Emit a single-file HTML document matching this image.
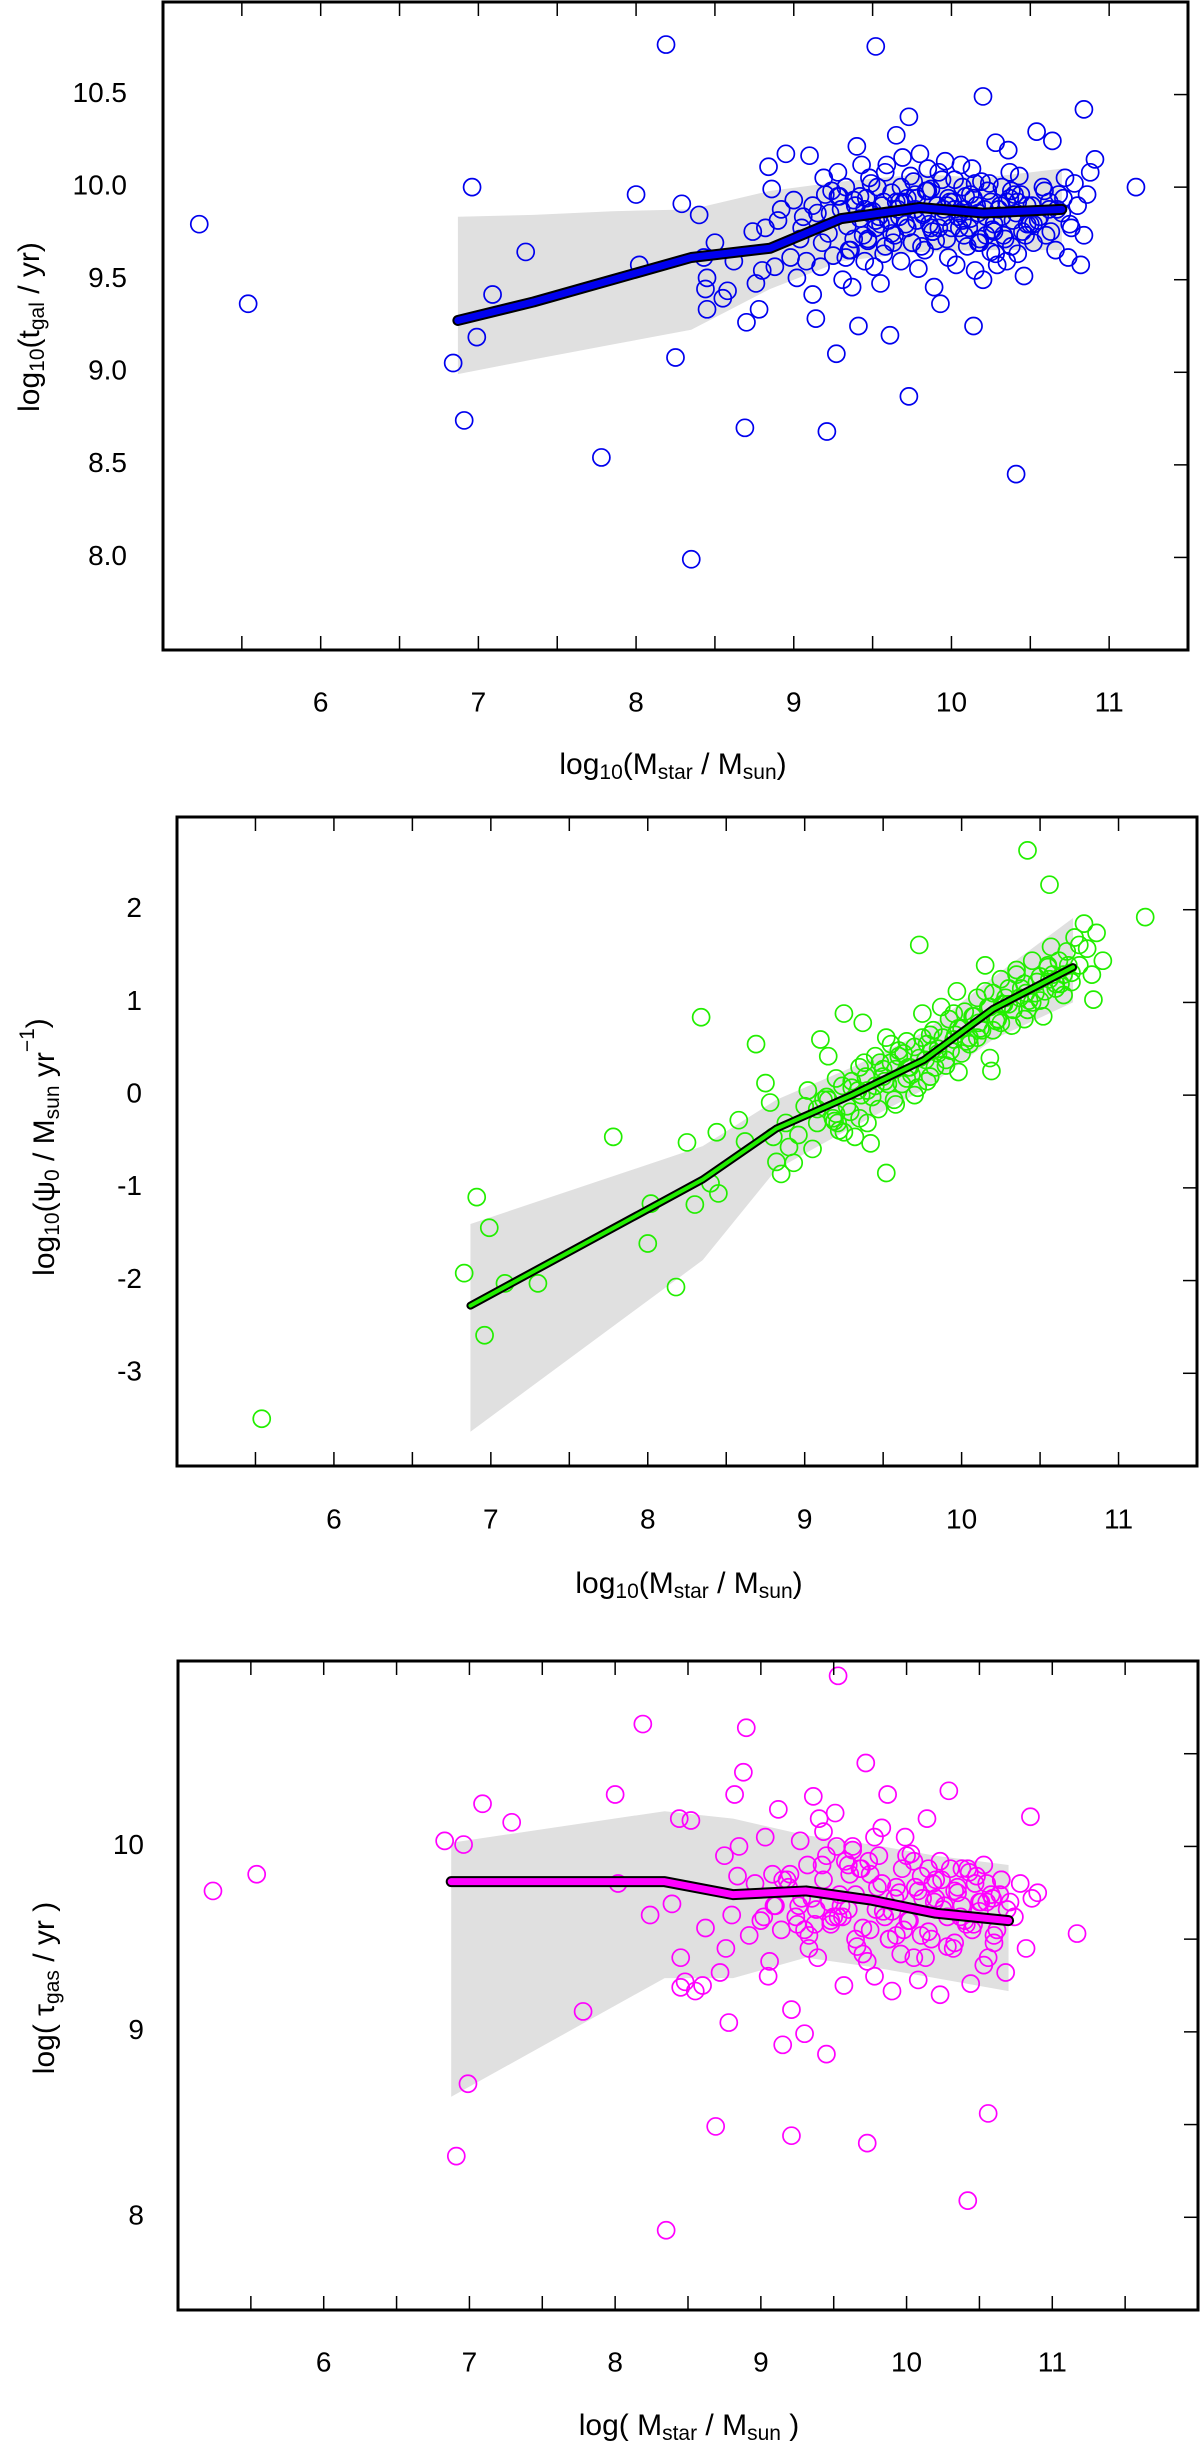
<!DOCTYPE html>
<html><head><meta charset="utf-8"><title>Galaxy properties vs stellar mass</title>
<style>
html,body{margin:0;padding:0;background:#fff;}
svg{display:block;font-family:"Liberation Sans",sans-serif;}
</style></head>
<body>
<svg id="fig" width="1200" height="2453" viewBox="0 0 1200 2453" xmlns="http://www.w3.org/2000/svg"></svg>
<script>
// ---------------- Panel 1 data: log t_gal ----------------
const p1OutX = [5.23,5.54,6.96,6.84,6.91,6.99,7.09,7.30,7.78,8.00,8.02,8.19,8.25,8.29,8.35,8.69,9.21,9.73,10.41,11.17,9.52,10.20,10.84,10.91];
const p1OutY = [9.80,9.37,10.00,9.05,8.74,9.19,9.42,9.65,8.54,9.96,9.58,10.77,9.08,9.91,7.99,8.70,8.68,8.87,8.45,10.00,10.76,10.49,10.42,10.15];
const p1CloudX = [8.40,8.43,8.44,8.45,8.45,8.50,8.55,8.58,8.62,8.70,8.74,8.76,8.78,8.80,8.82,8.84,8.86,8.88,8.90,8.92,8.95,8.98,9.00,9.02,9.04,9.06,9.08,9.10,9.12,9.14,9.15,9.17,9.19,9.20,9.22,9.24,9.25,9.27,9.28,9.30,9.31,9.33,9.34,9.36,9.37,9.38,9.40,9.41,9.42,9.43,9.45,9.46,9.47,9.48,9.50,9.51,9.52,9.53,9.55,9.56,9.57,9.58,9.60,9.61,9.62,9.64,9.65,9.66,9.68,9.69,9.70,9.72,9.73,9.75,9.76,9.78,9.79,9.80,9.82,9.83,9.85,9.86,9.87,9.89,9.90,9.92,9.93,9.95,9.96,9.98,9.99,10.00,10.02,10.03,10.05,10.06,10.08,10.09,10.10,10.12,10.13,10.14,10.15,10.16,10.18,10.19,10.20,10.22,10.23,10.25,10.26,10.28,10.29,10.30,10.32,10.33,10.35,10.36,10.38,10.39,10.40,10.42,10.43,10.45,10.46,10.48,10.50,10.52,10.54,10.56,10.58,10.60,10.62,10.64,10.66,10.68,10.70,10.72,10.74,10.76,10.78,10.80,10.82,10.84,10.86,10.88,9.35,9.45,9.55,9.65,9.75,9.85,9.95,10.05,10.15,10.25,10.35,9.28,9.38,9.48,9.58,9.68,9.78,9.88,9.98,10.08,10.18,10.28,10.38,10.48];
const p1CloudY = [9.85,9.62,9.45,9.34,9.51,9.70,9.40,9.44,9.60,9.27,9.76,9.48,9.34,9.55,9.78,10.11,9.99,9.57,9.82,9.88,10.18,9.62,9.93,9.51,9.72,9.84,9.60,10.17,9.42,9.29,9.86,9.57,10.05,9.96,9.75,9.98,9.63,9.10,10.08,9.88,9.50,10.00,9.79,9.66,9.46,9.93,10.22,9.25,9.83,10.12,9.60,9.94,9.71,10.05,9.87,9.57,9.78,10.00,9.48,9.90,9.64,10.08,9.82,9.20,9.97,9.74,10.28,9.88,9.60,10.16,9.92,9.78,10.38,9.70,10.03,9.94,9.56,10.18,9.85,9.66,10.10,9.80,9.99,9.46,9.71,10.08,9.37,9.88,10.14,9.62,9.92,9.78,10.04,9.58,9.86,10.12,9.74,9.95,9.68,9.83,10.10,9.25,9.55,9.90,9.72,10.03,9.50,9.84,9.98,9.65,9.77,10.24,9.58,9.88,10.00,9.74,9.92,10.20,9.68,9.82,9.96,9.64,10.06,9.76,9.52,9.90,9.80,9.70,10.30,9.84,10.00,9.74,9.92,10.25,9.66,9.96,9.86,10.05,9.62,9.78,10.02,9.90,9.58,9.74,9.96,10.08,9.66,9.88,9.80,9.92,9.70,9.98,9.84,9.78,10.02,9.92,9.60,9.95,9.72,9.86,9.68,10.00,9.82,9.76,9.94,9.88,9.70,9.64,9.98,9.80,10.10,9.74];
const p1Cloud2X = [9.05,9.12,9.18,9.23,9.29,9.33,9.39,9.44,9.49,9.54,9.59,9.63,9.67,9.71,9.74,9.77,9.81,9.84,9.88,9.91,9.94,9.97,10.01,10.04,10.07,10.11,10.14,10.17,10.21,10.24,10.27,10.31,10.34,10.37,10.41,10.44,10.47,10.51,10.55,10.59,10.63,10.67,10.71,10.75,9.42,9.52,9.62,9.72,9.82,9.92,10.02,10.12,10.22,10.32,10.42,10.52,10.62,9.47,9.57,9.67,9.77,9.87,9.97,10.07,10.17,10.27,10.37];
const p1Cloud2Y = [9.78,9.90,9.70,9.86,9.95,9.62,9.90,9.74,10.02,9.84,10.12,9.70,9.92,9.80,10.06,9.88,9.68,9.98,9.76,9.90,10.04,9.72,9.92,9.84,10.00,9.78,9.94,9.70,9.88,10.02,9.80,9.90,9.72,10.08,9.86,9.96,9.74,9.90,9.82,9.98,9.76,9.88,9.94,9.80,9.95,9.82,9.75,9.94,9.86,9.78,9.88,9.96,9.74,9.84,9.92,9.80,9.88,9.72,9.92,9.84,9.96,9.78,9.90,9.82,9.86,9.76,9.94];
const p1BandX = [6.87,7.35,7.85,8.35,8.85,9.30,9.80,10.20,10.70];
const p1BandHi = [9.84,9.85,9.87,9.88,9.98,10.03,10.07,10.05,10.10];
const p1BandLo = [8.99,9.07,9.15,9.23,9.45,9.60,9.65,9.66,9.66];
const p1LineY = [9.28,9.38,9.50,9.62,9.67,9.83,9.89,9.86,9.88];

// ---------------- Panel 2 data: log psi0 ----------------
const p2OutX = [5.54,6.83,6.91,6.99,6.96,7.09,7.30,7.78,8.00,8.02,8.18,8.25,8.30,8.34,8.69,10.42,10.56,11.17,9.73,9.52,10.19,10.84,8.40,8.44,8.45,8.58,8.62];
const p2OutY = [-3.49,-1.92,-1.10,-1.43,-2.59,-2.03,-2.03,-0.45,-1.60,-1.17,-2.07,-0.51,-1.18,0.84,0.55,2.64,2.27,1.92,1.62,-0.84,0.26,1.03,-0.95,-0.40,-1.06,-0.27,-0.50];
const p2CloudX = [8.75,8.78,8.80,8.82,8.85,8.88,8.90,8.93,8.96,9.00,9.02,9.05,9.08,9.10,9.12,9.15,9.18,9.20,9.22,9.25,9.27,9.30,9.32,9.35,9.37,9.40,9.42,9.45,9.47,9.50,9.52,9.55,9.57,9.60,9.62,9.65,9.67,9.70,9.72,9.75,9.77,9.80,9.82,9.85,9.87,9.90,9.92,9.95,9.97,10.00,10.02,10.05,10.07,10.10,10.12,10.15,10.17,10.20,10.22,10.25,10.27,10.30,10.32,10.35,10.37,10.40,10.42,10.45,10.47,10.50,10.52,10.55,10.57,10.60,10.62,10.65,10.67,10.70,10.72,10.75,10.78,10.80,10.83,10.86,10.90,9.20,9.30,9.40,9.50,9.60,9.70,9.80,9.90,10.00,10.10,10.20,10.30,10.40,10.50,10.60,10.70,9.25,9.35,9.45,9.55,9.65,9.75,9.85,9.95,10.05,10.15,10.25,10.35,10.45,10.55,10.65,10.75,9.15,9.38,9.58,9.78,9.98,10.18];
const p2CloudY = [0.13,-0.08,-0.45,-0.72,-0.85,-0.30,-0.56,-0.73,-0.43,-0.12,0.05,-0.58,-0.30,0.60,-0.05,0.42,-0.25,0.18,-0.38,0.88,-0.12,0.08,-0.45,0.30,0.78,0.05,-0.52,0.42,-0.15,0.20,0.62,0.35,-0.05,0.48,0.12,0.58,0.30,0.52,0.08,0.88,0.38,0.20,0.70,0.50,0.95,0.32,0.82,0.60,1.12,0.45,0.90,0.62,0.85,1.05,0.72,1.40,0.95,1.10,0.80,1.25,0.98,1.15,0.75,1.35,1.05,1.20,0.92,1.45,1.10,1.28,0.85,1.38,1.60,1.20,1.45,1.30,1.55,1.22,1.70,1.40,1.85,1.58,1.30,1.75,1.45,-0.20,0.15,-0.30,0.28,0.42,0.00,0.65,0.38,0.72,0.62,0.70,0.98,0.82,1.02,1.15,1.32,-0.40,-0.25,0.10,0.55,0.18,0.62,0.45,0.88,0.55,1.12,0.78,1.30,1.00,1.40,1.08,1.62,-0.05,0.35,-0.10,0.15,0.25,0.40];
const p2Cloud2X = [9.08,9.14,9.19,9.24,9.29,9.34,9.39,9.43,9.48,9.53,9.58,9.63,9.68,9.73,9.78,9.83,9.88,9.93,9.98,10.03,10.08,10.13,10.18,10.23,10.28,10.33,10.38,10.43,10.48,10.53,10.58,10.63,10.68,9.21,9.36,9.51,9.66,9.81,9.96,10.11,10.26,10.41,10.56];
const p2Cloud2Y = [-0.15,-0.02,-0.28,0.10,-0.18,0.05,0.20,-0.02,0.35,0.12,0.28,0.45,0.22,0.40,0.55,0.30,0.62,0.48,0.72,0.58,0.85,0.70,0.95,0.82,1.05,0.92,1.15,1.02,1.22,1.12,1.30,1.20,1.40,-0.30,0.00,0.15,0.30,0.48,0.65,0.78,0.98,1.10,1.25];
const p2BandX = [6.87,8.35,8.82,9.30,9.76,10.20,10.71];
const p2BandHi = [-1.39,-0.55,-0.05,0.30,0.68,1.27,1.91];
const p2BandLo = [-3.63,-1.78,-0.80,-0.35,0.06,0.60,1.00];
const p2LineY = [-2.27,-0.91,-0.36,0.00,0.38,0.93,1.38];

// ---------------- Panel 3 data: log tau_gas ----------------
const p3OutX = [5.24,5.54,6.83,6.96,7.09,7.29,6.99,6.91,7.78,8.00,8.02,8.19,8.24,8.35,8.39,8.69,8.90,9.53,9.21,9.73,10.42,10.56,11.17,10.85,8.44,8.45,8.52,8.62,8.75,8.78,8.82,8.85];
const p3OutY = [9.76,9.85,10.03,10.01,10.23,10.13,8.72,8.33,9.11,10.28,9.80,10.66,9.63,7.93,9.69,8.49,10.64,10.92,8.44,8.40,8.09,8.56,9.53,10.16,10.15,9.40,10.14,9.56,9.95,9.05,10.28,10.00];
const p3CloudX = [8.45,8.48,8.55,8.60,8.72,8.76,8.80,8.84,8.88,8.92,8.96,9.00,9.03,9.06,9.09,9.12,9.15,9.18,9.21,9.24,9.27,9.30,9.33,9.36,9.39,9.42,9.45,9.48,9.51,9.54,9.57,9.60,9.63,9.66,9.69,9.72,9.75,9.78,9.81,9.84,9.87,9.90,9.93,9.96,9.99,10.02,10.05,10.08,10.11,10.14,10.17,10.20,10.23,10.26,10.29,10.32,10.35,10.38,10.41,10.44,10.47,10.50,10.53,10.56,10.59,10.62,10.65,10.68,10.71,10.74,10.78,10.82,10.86,10.90,9.10,9.20,9.30,9.40,9.50,9.60,9.70,9.80,9.90,10.00,10.10,10.20,10.30,10.40,10.50,10.60,9.15,9.25,9.35,9.45,9.55,9.65,9.75,9.85,9.95,10.05,10.15,10.25,10.35,10.45,10.55,10.65,9.05,9.28,9.48,9.68,9.88,10.08,10.28,10.48,9.38,9.58,9.78,9.98,10.18,10.38,10.58];
const p3CloudY = [9.24,9.27,9.22,9.25,9.32,9.45,9.63,9.84,10.40,9.52,9.80,9.60,10.05,9.38,9.68,10.20,8.93,9.82,9.12,9.62,10.03,8.99,9.52,10.27,9.40,9.90,8.88,9.58,10.18,9.74,9.25,9.66,10.00,9.46,9.88,10.45,9.55,9.30,9.95,9.65,10.28,9.22,9.78,9.42,10.05,9.60,9.92,9.28,9.72,10.15,9.50,9.82,9.20,9.68,10.30,9.45,9.75,9.88,9.58,9.26,9.80,9.65,9.90,9.40,9.72,9.55,9.82,9.32,9.70,9.62,9.80,9.45,9.72,9.75,9.68,9.85,9.55,10.15,9.62,9.90,9.42,9.78,9.65,9.95,9.52,9.72,9.88,9.60,9.70,9.48,9.82,9.58,9.72,9.95,9.68,9.50,9.85,9.62,9.75,9.40,9.88,9.66,9.78,9.55,9.70,9.82,9.30,9.72,9.60,9.88,9.50,9.76,9.62,9.84,9.66,9.92,10.05,9.55,9.80,9.68,9.74,9.60];
const p3Cloud2X = [9.02,9.08,9.14,9.19,9.26,9.32,9.37,9.43,9.47,9.52,9.56,9.61,9.65,9.70,9.74,9.79,9.83,9.88,9.92,9.97,10.01,10.06,10.10,10.15,10.19,10.24,10.28,10.33,10.37,10.42,10.46,10.51,10.55,10.60,10.64,10.69,9.33,9.53,9.73,9.93,10.13,10.33,10.53,9.43,9.63,9.83,10.03,10.23,10.43];
const p3Cloud2Y = [9.62,9.85,9.55,9.78,9.68,9.90,9.58,9.82,9.70,10.00,9.62,9.85,9.74,9.56,9.92,9.66,9.80,9.50,9.72,9.88,9.60,9.78,9.84,9.54,9.70,9.82,9.46,9.76,9.62,9.88,9.58,9.70,9.80,9.52,9.74,9.66,9.45,9.62,9.38,9.52,9.40,9.48,9.36,10.08,9.98,10.10,9.96,9.92,9.86];
const p3BandX = [6.875,8.34,8.81,9.31,9.76,10.20,10.70];
const p3BandHi = [10.02,10.19,10.15,10.06,10.01,9.95,9.90];
const p3BandLo = [8.65,9.29,9.29,9.40,9.35,9.29,9.22];
const p3LineY = [9.81,9.81,9.74,9.76,9.71,9.64,9.60];

const xTickLabels = ['6','7','8','9','10','11'];
const yTickLabels1 = ['8.0','8.5','9.0','9.5','10.0','10.5'];
const yTickLabels2 = ['-3','-2','-1','0','1','2'];
const yTickLabels3 = ['8','9','10'];

const NS = 'http://www.w3.org/2000/svg';
const svg = document.getElementById('fig');
function mk(tag, attrs, parent){
  const e = document.createElementNS(NS, tag);
  for (const k in attrs) e.setAttribute(k, attrs[k]);
  (parent||svg).appendChild(e);
  return e;
}

function panel(cfg){
  const g = mk('g', {});
  
  
  const sx = v => cfg.L + (v - cfg.x0) / (cfg.x1 - cfg.x0) * (cfg.R - cfg.L);
  const sy = v => cfg.B - (v - cfg.y0) / (cfg.y1 - cfg.y0) * (cfg.B - cfg.T);
  let pts = cfg.bandX.map((x,i)=>sx(x)+','+sy(cfg.bandHi[i]));
  for (let i=cfg.bandX.length-1;i>=0;i--) pts.push(sx(cfg.bandX[i])+','+sy(cfg.bandLo[i]));
  const band = mk('polygon', {points: pts.join(' '), fill:'#e0e0e0', stroke:'none'}, g);
  
  
  const pg = mk('g', {fill:'none', stroke:cfg.color, 'stroke-width':1.7}, g);
  
  
  const addPts = (xs, ys) => xs.forEach((x,i)=>{
    const c = mk('circle', {cx:sx(x), cy:sy(ys[i]), r:8.5}, pg);
    
    
  });
  addPts(cfg.cloudX, cfg.cloudY);
  addPts(cfg.cloud2X, cfg.cloud2Y);
  addPts(cfg.outX, cfg.outY);
  const lp = cfg.bandX.map((x,i)=>sx(x)+','+sy(cfg.lineY[i])).join(' ');
  const l1 = mk('polyline', {points:lp, fill:'none', stroke:'#000', 'stroke-width':cfg.lw+4, 'stroke-linecap':'round', 'stroke-linejoin':'round'}, g);
  
  
  const l2 = mk('polyline', {points:lp, fill:'none', stroke:cfg.color, 'stroke-width':cfg.lw, 'stroke-linecap':'round', 'stroke-linejoin':'round'}, g);
  
  
  const tg = mk('g', {stroke:'#000', 'stroke-width':1.5}, g);
  
  
  for (let v = cfg.x0 + 0.5; v < cfg.x1 - 0.01; v += 0.5){
    mk('line', {x1:sx(v), x2:sx(v), y1:cfg.B, y2:cfg.B-14}, tg);
    mk('line', {x1:sx(v), x2:sx(v), y1:cfg.T, y2:cfg.T+14}, tg);
  }
  for (let v = cfg.y0 + cfg.ystep; v < cfg.y1 - 0.01; v += cfg.ystep){
    mk('line', {x1:cfg.R, x2:cfg.R-14, y1:sy(v), y2:sy(v)}, tg);
  }
  const fr = mk('rect', {x:cfg.L, y:cfg.T, width:cfg.R-cfg.L, height:cfg.B-cfg.T, fill:'none', stroke:'#000', 'stroke-width':3}, g);
  
  
  xTickLabels.forEach(s=>{
    const t = mk('text', {x:sx(parseFloat(s)), y:cfg.xLabY, 'font-size':28, 'text-anchor':'middle', 'dominant-baseline':'middle'}, g);
    t.textContent = s;
    
    
  });
  cfg.yLabels.forEach(s=>{
    const t = mk('text', {x:cfg.yLabX, y:sy(parseFloat(s)), 'font-size':28, 'text-anchor':'end', 'dominant-baseline':'middle'}, g);
    t.textContent = s;
    
    
  });
  const xt = mk('text', {x:cfg.xTitleX, y:cfg.xTitleY, 'font-size':30, 'text-anchor':'middle', 'dominant-baseline':'middle'}, g);
  xt.innerHTML = cfg.xTitle;
  
  
  const yt = mk('text', {x:0, y:0, 'font-size':30, 'text-anchor':'middle', 'dominant-baseline':'middle', transform:`translate(${cfg.yTitleX},${cfg.yTitleY}) rotate(-90)`}, g);
  yt.innerHTML = cfg.yTitle;
  
  
}

const sub = s => `<tspan font-size="21" dy="7">${s}</tspan><tspan dy="-7">`;
const xT1 = `log${sub('10')}(M${sub('star')} / M${sub('sun')})</tspan></tspan></tspan>`;

panel({name:'panel-galaxy-age', L:163, R:1188, T:2, B:650, x0:5, x1:11.5, y0:7.5, y1:11, ystep:0.5,
  color:'#0000ee', lw:7, outX:p1OutX, outY:p1OutY, cloudX:p1CloudX, cloudY:p1CloudY, cloud2X:p1Cloud2X, cloud2Y:p1Cloud2Y,
  bandX:p1BandX, bandHi:p1BandHi, bandLo:p1BandLo, lineY:p1LineY, yLabels:yTickLabels1,
  xLabY:704, yLabX:127, xTitleX:673, xTitleY:766, yTitleX:31, yTitleY:327,
  xTitle:xT1, yTitle:`log${sub('10')}(t${sub('gal')} / yr)</tspan></tspan>`});

panel({name:'panel-sfr', L:177, R:1197, T:817, B:1466, x0:5, x1:11.5, y0:-4, y1:3, ystep:1,
  color:'#22ee00', lw:4, outX:p2OutX, outY:p2OutY, cloudX:p2CloudX, cloudY:p2CloudY, cloud2X:p2Cloud2X, cloud2Y:p2Cloud2Y,
  bandX:p2BandX, bandHi:p2BandHi, bandLo:p2BandLo, lineY:p2LineY, yLabels:yTickLabels2,
  xLabY:1521, yLabX:142, xTitleX:689, xTitleY:1585, yTitleX:46, yTitleY:1147,
  xTitle:xT1, yTitle:`log${sub('10')}(ψ${sub('0')} / M${sub('sun')} yr<tspan font-size="21" dy="-18">−1</tspan><tspan dy="11">)</tspan></tspan></tspan>`});

panel({name:'panel-gas-timescale', L:178, R:1198, T:1661, B:2310, x0:5, x1:12, y0:7.5, y1:11, ystep:0.5,
  color:'#ff00ff', lw:7, outX:p3OutX, outY:p3OutY, cloudX:p3CloudX, cloudY:p3CloudY, cloud2X:p3Cloud2X, cloud2Y:p3Cloud2Y,
  bandX:p3BandX, bandHi:p3BandHi, bandLo:p3BandLo, lineY:p3LineY, yLabels:yTickLabels3,
  xLabY:2364, yLabX:144, xTitleX:689, xTitleY:2427, yTitleX:46, yTitleY:1988,
  xTitle:`log( M${sub('star')} / M${sub('sun')} )</tspan></tspan>`, yTitle:`log( τ${sub('gas')} / yr )</tspan>`});
</script>
</body></html>
